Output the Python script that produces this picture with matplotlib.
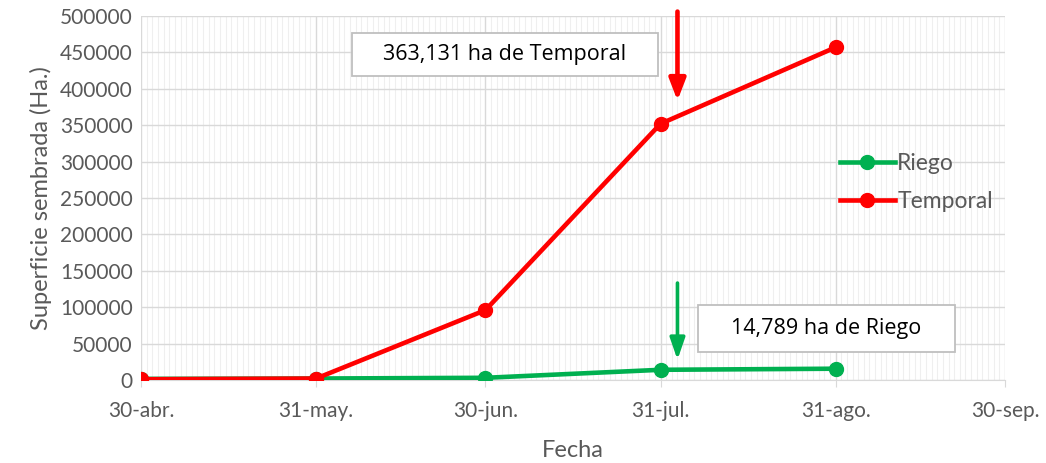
import numpy as np
import matplotlib.pyplot as plt
import matplotlib.dates as mdates
from matplotlib.patches import Rectangle

fechas = ['2020-04-30', '2020-05-31', '2020-06-30', '2020-07-31', '2020-08-31']
riego = [1500, 2000, 3000, 14000, 15500]
temporal = [1000, 2000, 96000, 352000, 457000]
tick_fechas = ['2020-04-30', '2020-05-31', '2020-06-30', '2020-07-31', '2020-08-31', '2020-09-30']
tick_labels = ['30-abr.', '31-may.', '30-jun.', '31-jul.', '31-ago.', '30-sep.']

x = mdates.datestr2num(fechas)
xt = mdates.datestr2num(tick_fechas)

plt.rcParams['font.family'] = ['Lato', 'DejaVu Sans']
gray = '#595959'

fig = plt.figure(figsize=(10.46, 4.63), dpi=100)
ax = fig.add_axes([0.1348, 0.1793, 0.826, 0.786])

ax.plot(x, riego, color='#00b050', lw=3.3, marker='o', ms=10, label='Riego', zorder=3)
ax.plot(x, temporal, color='#ff0000', lw=3.3, marker='o', ms=10, label='Temporal', zorder=4)

ax.set_xlim(xt[0], xt[-1])
ax.set_ylim(0, 500000)
ax.set_xticks(xt)
ax.set_xticklabels(tick_labels)
ax.set_xticks(np.arange(xt[0], xt[-1] + 1, 1), minor=True)
ax.set_yticks(np.arange(0, 500001, 50000))

ax.grid(which='major', color='#d9d9d9', lw=1)
ax.grid(which='minor', axis='x', color='#efefef', lw=0.8)
for s in ['top', 'right', 'left']:
    ax.spines[s].set_visible(False)
ax.spines['bottom'].set_color('#d9d9d9')
ax.tick_params(axis='x', which='major', colors='#d9d9d9', length=5, labelcolor=gray, labelsize=15, pad=10)
ax.tick_params(axis='x', which='minor', length=0)
ax.tick_params(axis='y', length=0, labelcolor=gray, labelsize=15, pad=6)

ax.set_xlabel('Fecha', color=gray, fontsize=17, labelpad=14)
ax.set_ylabel('Superficie sembrada (Ha.)', color=gray, fontsize=17, labelpad=6)

ax.legend(loc='upper left', bbox_to_anchor=(0.785, 0.68), frameon=False, fontsize=16.5,
          labelcolor=gray, handlelength=2.4, handletextpad=0.1, labelspacing=0.75)

# flechas
ax.annotate('', xy=(x[3] + 3, 380000), xytext=(x[3] + 3, 510000), annotation_clip=False,
            arrowprops=dict(arrowstyle='-|>,head_length=1.3,head_width=0.5', color='#ff0000', lw=3.3))
ax.annotate('', xy=(x[3] + 3, 24000), xytext=(x[3] + 3, 137000),
            arrowprops=dict(arrowstyle='-|>,head_length=1.3,head_width=0.45', color='#00b050', lw=2.6))

# cuadros de texto
d0 = xt[0]
for (a, b, y0, y1), txt in [((37.3, 91.5, 417600, 476600), '363,131 ha de Temporal'),
                            ((98.6, 144.2, 38500, 103000), '14,789 ha de Riego')]:
    ax.add_patch(Rectangle((d0 + a, y0), b - a, y1 - y0, fc='white', ec='#bfbfbf', lw=1.3, zorder=5))
    ax.text(d0 + (a + b) / 2, (y0 + y1) / 2, txt, ha='center', va='center', fontsize=15.5,
            color='black', family=['Open Sans', 'DejaVu Sans'], zorder=6)

fig.savefig('out.png', dpi=100)
